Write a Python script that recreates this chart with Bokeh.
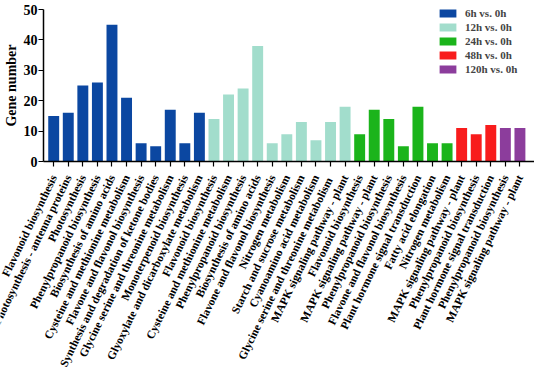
import math
from bokeh.plotting import figure
from bokeh.models import Range1d, FixedTicker, Legend, LegendItem, ColumnDataSource
from bokeh.core.properties import value
from bokeh.embed import file_html
from bokeh.resources import INLINE

groups = ["6h vs. 0h", "12h vs. 0h", "24h vs. 0h", "48h vs. 0h", "120h vs. 0h"]
colors = ["#0b47a1", "#a2ddcc", "#1bb41b", "#f81c1c", "#8c3d9c"]

pathways_6h = ["Flavonoid biosynthesis", "Photosynthesis - antenna proteins", "Photosynthesis",
               "Phenylpropanoid biosynthesis", "Biosynthesis of amino acids",
               "Cysteine and methionine metabolism", "Flavone and flavonol biosynthesis",
               "Synthesis and degradation of ketone bodies", "Glycine serine and threonine metabolism",
               "Monoterpenoid biosynthesis", "Glyoxylate and dicarboxylate metabolism"]
genes_6h = [15, 16, 25, 26, 45, 21, 6, 5, 17, 6, 16]

pathways_12h = ["Flavonoid biosynthesis", "Cysteine and methionine metabolism",
                "Phenylpropanoid biosynthesis", "Biosynthesis of amino acids",
                "Flavone and flavonol biosynthesis", "Nitrogen metabolism",
                "Starch and sucrose metabolism", "Cyanoamino acid metabolism",
                "Glycine  serine and threonine metabolism", "MAPK signaling pathway - plant"]
genes_12h = [14, 22, 24, 38, 6, 9, 13, 7, 13, 18]

pathways_24h = ["Flavonoid biosynthesis", "MAPK signaling pathway - plant",
                "Phenylpropanoid biosynthesis", "Flavone and flavonol biosynthesis",
                "Plant hormone signal transduction", "Fatty acid elongation", "Nitrogen metabolism"]
genes_24h = [9, 17, 14, 5, 18, 6, 6]

pathways_48h = ["MAPK signaling pathway - plant", "Phenylpropanoid biosynthesis",
                "Plant hormone signal transduction"]
genes_48h = [11, 9, 12]

pathways_120h = ["Phenylpropanoid biosynthesis", "MAPK signaling pathway - plant"]
genes_120h = [11, 11]

y_ticks = [0, 10, 20, 30, 40, 50]

all_paths = [pathways_6h, pathways_12h, pathways_24h, pathways_48h, pathways_120h]
all_genes = [genes_6h, genes_12h, genes_24h, genes_48h, genes_120h]

FONT = "Liberation Serif"
W, H = 534, 367
AX_X, AX_TOP, AX_BOT = 43, 9, 161      # pixel positions of the axes inside the canvas
LAB_GAP = 14                           # gap between x axis and the category labels

n = sum(len(a) for a in all_paths)
X0, X1 = -0.7, float(n)
Y0, Y1 = 0, 50
ppx = (W - AX_X) / (X1 - X0)
ppy = (AX_BOT - AX_TOP) / (Y1 - Y0)

p = figure(width=W, height=H, output_backend="svg", toolbar_location=None,
           x_range=Range1d(X0 - AX_X / ppx, X1),
           y_range=Range1d(Y0 - (H - AX_BOT) / ppy, Y1 + AX_TOP / ppy),
           min_border=0, min_border_top=0, min_border_left=0,
           min_border_right=0, min_border_bottom=0)

labels = []
positions = []
renderers = []
idx = 0
for g, c, paths, genes in zip(groups, colors, all_paths, all_genes):
    xs = list(range(idx, idx + len(paths)))
    idx += len(paths)
    labels.extend(paths)
    positions.extend(xs)
    src = ColumnDataSource(dict(x=xs, top=genes))
    r = p.vbar(x="x", top="top", width=0.75, source=src, fill_color=c, line_color=None)
    renderers.append((g, r))

xax = p.xaxis[0]
xax.fixed_location = 0
xax.bounds = (X0, X1)
xax.ticker = FixedTicker(ticks=positions)
xax.major_label_overrides = {i: "" for i in positions}
xax.major_label_text_font_size = "1px"
xax.major_label_standoff = 0

yax = p.yaxis[0]
yax.fixed_location = X0
yax.bounds = (Y0, Y1)
yax.ticker = FixedTicker(ticks=y_ticks)
yax.major_label_text_font = FONT
yax.major_label_text_font_style = "bold"
yax.major_label_text_font_size = "14px"
yax.major_label_text_color = "black"
yax.major_label_standoff = 1
yax.axis_label = "Gene number"
yax.axis_label_text_font = FONT
yax.axis_label_text_font_style = "bold"
yax.axis_label_text_font_size = "14px"
yax.axis_label_text_color = "black"
yax.axis_label_standoff = 2

for ax in (xax, yax):
    ax.axis_line_width = 1.5
    ax.axis_line_color = "black"
    ax.major_tick_line_width = 1.2
    ax.major_tick_line_color = "black"
    ax.major_tick_out = 5
    ax.major_tick_in = 0
    ax.minor_tick_line_color = None

p.xgrid.grid_line_color = None
p.ygrid.grid_line_color = None
p.outline_line_color = None

lab_src = ColumnDataSource(dict(x=positions, y=[Y0 - LAB_GAP / ppy] * n, text=labels))
p.text(x="x", y="y", text="text", source=lab_src, angle=math.radians(64),
       text_align="right", text_baseline="middle",
       text_font=value(FONT), text_font_style="bold", text_font_size="11.5px",
       text_color="black")

legend = Legend(items=[LegendItem(label=g, renderers=[r]) for g, r in renderers],
                location=(AX_X + 394, H - 75), padding=2, spacing=2, glyph_width=21,
                glyph_height=10, label_height=10, label_standoff=7, border_line_color=None,
                background_fill_alpha=0, label_text_font=FONT, label_text_font_style="bold",
                label_text_font_size="11px", margin=0)
p.add_layout(legend)

open("out.html", "w").write(file_html(p, INLINE))
